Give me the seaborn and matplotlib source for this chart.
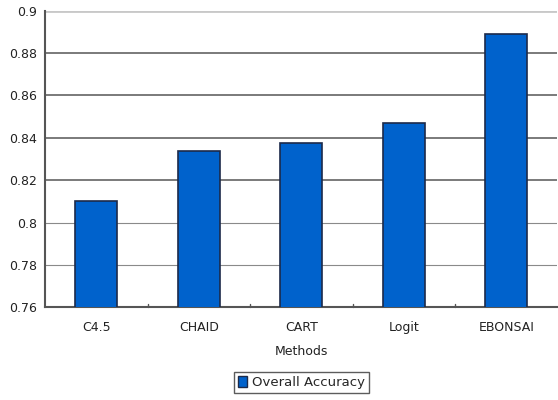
import pandas as pd
import seaborn as sns
import matplotlib.pyplot as plt
from matplotlib.patches import Patch

methods = ['C4.5', 'CHAID', 'CART', 'Logit', 'EBONSAI']
accuracy = [0.810, 0.834, 0.8375, 0.847, 0.889]
yticks = [0.76, 0.78, 0.8, 0.82, 0.84, 0.86, 0.88, 0.9]
ytick_labels = ['0.76', '0.78', '0.8', '0.82', '0.84', '0.86', '0.88', '0.9']

df = pd.DataFrame({'Methods': methods, 'Overall Accuracy': accuracy})

sns.set_style('white')
plt.rcParams['font.family'] = ['DejaVu Sans']

fig, ax = plt.subplots(figsize=(5.58, 4), dpi=100)
fig.subplots_adjust(left=0.081, right=0.999, top=0.973, bottom=0.232)

sns.barplot(data=df, x='Methods', y='Overall Accuracy', color='#0062CC',
            width=0.41, edgecolor='#1c2a4a', linewidth=1.2, saturation=1, ax=ax, zorder=3)

ax.set_ylim(0.76, 0.9)
ax.set_yticks(yticks)
ax.set_yticklabels(ytick_labels, fontsize=9, color='#222222')
ax.set_xlim(-0.5, 4.5)
ax.tick_params(axis='x', labelsize=9, colors='#222222', length=0, pad=10)
ax.tick_params(axis='y', length=0, pad=6)
for t in [0.78, 0.8]:
    ax.axhline(t, color='#8a8a8a', lw=0.8, zorder=1)
for t in [0.82, 0.84, 0.86, 0.88]:
    ax.axhline(t, color='#7a7a7a', lw=1.4, zorder=1)
ax.axhline(0.9, color='#c8c8c8', lw=2, zorder=1)

# small separator ticks between categories
for xb in [0.5, 1.5, 2.5, 3.5]:
    ax.plot([xb, xb], [0.76, 0.7615], color='#555555', lw=1, zorder=4, clip_on=False)

for s in ['top', 'right']:
    ax.spines[s].set_visible(False)
for s in ['left', 'bottom']:
    ax.spines[s].set_color('#555555')
    ax.spines[s].set_linewidth(1.5)

ax.set_xlabel('Methods', fontsize=9, color='#222222', labelpad=8)
ax.set_ylabel('')

handle = Patch(facecolor='#0062CC', edgecolor='#1c2a4a', label='Overall Accuracy')
fig.legend(handles=[handle], loc='lower center', bbox_to_anchor=(0.54, 0.0), ncol=1,
           fontsize=9.5, frameon=True, fancybox=False, edgecolor='#333333',
           handlelength=0.7, handleheight=0.9, handletextpad=0.4, borderpad=0.3)

plt.savefig('out.png', dpi=100)
